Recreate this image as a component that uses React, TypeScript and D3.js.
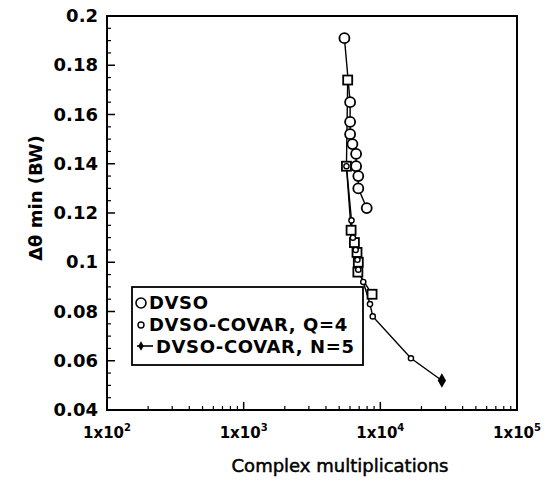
import React from "react";
import * as d3 from "d3";

const dvsoX = [5460, 6010, 6010, 6010, 6250, 6650, 6650, 6900, 6900, 7950];
const dvsoY = [0.191, 0.165, 0.157, 0.152, 0.148, 0.144, 0.139, 0.135, 0.130, 0.122];

const q4X = [5770, 5650, 6110, 6460, 6750, 6900, 6850, 8700];
const q4Y = [0.174, 0.139, 0.113, 0.108, 0.104, 0.100, 0.096, 0.087];

const n5X = [5650, 6150, 6300, 6600, 6800, 6900, 7500, 8400, 8800, 16750, 28200];
const n5Y = [0.139, 0.117, 0.110, 0.105, 0.101, 0.097, 0.092, 0.083, 0.078, 0.061, 0.052];

const yTicks = [0.04, 0.06, 0.08, 0.1, 0.12, 0.14, 0.16, 0.18, 0.2];
const yTickLabels = ["0.04", "0.06", "0.08", "0.1", "0.12", "0.14", "0.16", "0.18", "0.2"];
const xTicks = [100, 1000, 10000, 100000];
const xTickExps = ["2", "3", "4", "5"];
const legendLabels = ["DVSO", "DVSO-COVAR, Q=4", "DVSO-COVAR, N=5"];

const W = 551;
const H = 485;
const L = 107, R = 517, T = 16, B = 410;

export default function App() {
  const x = d3.scaleLog().domain([100, 100000]).range([L, R]);
  const y = d3.scaleLinear().domain([0.04, 0.2]).range([B, T]);
  const line = d3.line<[number, number]>().x((d) => x(d[0])).y((d) => y(d[1]));
  const dvso = dvsoX.map((v, i) => [v, dvsoY[i]] as [number, number]);
  const q4 = q4X.map((v, i) => [v, q4Y[i]] as [number, number]);
  const n5 = n5X.map((v, i) => [v, n5Y[i]] as [number, number]);

  const minorY = d3.range(0.045, 0.2, 0.005).filter((v) => Math.abs((v * 1000) % 20) > 1e-6 && Math.abs((v * 1000) % 20 - 20) > 1e-6);
  const minorX: number[] = [];
  for (let e = 2; e < 5; e++) for (let k = 2; k <= 9; k++) minorX.push(k * Math.pow(10, e));

  const bold = { fontFamily: "'DejaVu Sans', sans-serif", fontWeight: "bold" as const };
  const diamond = d3.symbol().type(d3.symbolDiamond);

  return (
    <svg width={W} height={H} style={{ position: "absolute", left: 0, top: 0, background: "#fff" }}>
      <rect x={0} y={0} width={W} height={H} fill="#fff" />
      {/* frame */}
      <rect x={L} y={T} width={R - L} height={B - T} fill="none" stroke="#000" strokeWidth={2} />
      {/* y ticks */}
      {yTicks.map((t) => (
        <line key={"yt" + t} x1={L} x2={L + 8} y1={y(t)} y2={y(t)} stroke="#000" strokeWidth={1.5} />
      ))}
      {minorY.map((t) => (
        <line key={"ym" + t} x1={L} x2={L + 4} y1={y(t)} y2={y(t)} stroke="#000" strokeWidth={1.2} />
      ))}
      {yTicks.map((t, i) => (
        <text key={"yl" + t} x={98} y={y(t) + 6} textAnchor="end" fontSize={18} {...bold}>
          {yTickLabels[i]}
        </text>
      ))}
      {/* x ticks */}
      {xTicks.map((t) => (
        <line key={"xt" + t} x1={x(t)} x2={x(t)} y1={B} y2={B - 8} stroke="#000" strokeWidth={1.5} />
      ))}
      {minorX.map((t) => (
        <line key={"xm" + t} x1={x(t)} x2={x(t)} y1={B} y2={B - 4} stroke="#000" strokeWidth={1.2} />
      ))}
      {xTicks.map((t, i) => (
        <text key={"xl" + t} x={x(t)} y={438} textAnchor="middle" fontSize={15} {...bold}>
          1x10<tspan dy={-7} fontSize={10}>{xTickExps[i]}</tspan>
        </text>
      ))}
      {/* axis titles */}
      <text x={340} y={472} textAnchor="middle" fontSize={18} fontFamily="'DejaVu Sans', sans-serif" stroke="#000" strokeWidth={0.5}>
        Complex multiplications
      </text>
      <text transform={`translate(42,198) rotate(-90)`} textAnchor="middle" fontSize={18} {...bold}>
        Δθ min (BW)
      </text>
      {/* series lines */}
      <path d={line(dvso) || ""} fill="none" stroke="#000" strokeWidth={1.4} />
      <path d={line(q4) || ""} fill="none" stroke="#000" strokeWidth={1.4} />
      <path d={line(n5) || ""} fill="none" stroke="#000" strokeWidth={1.4} />
      {/* markers */}
      {dvso.map((d, i) => (
        <circle key={"c" + i} cx={x(d[0])} cy={y(d[1])} r={5} fill="#fff" stroke="#000" strokeWidth={1.8} />
      ))}
      {q4.map((d, i) => (
        <rect key={"s" + i} x={x(d[0]) - 4.5} y={y(d[1]) - 4.5} width={9} height={9} fill="#fff" stroke="#000" strokeWidth={1.8} />
      ))}
      {n5.map((d, i) =>
        i === n5.length - 1 ? (
          <path key={"n" + i} d={diamond.size(60)() || ""} transform={`translate(${x(d[0])},${y(d[1])})`} fill="#000" />
        ) : (
          <circle key={"n" + i} cx={x(d[0])} cy={y(d[1])} r={2.6} fill="#fff" stroke="#000" strokeWidth={1.4} />
        )
      )}
      {/* legend */}
      <rect x={132} y={287} width={231} height={78} fill="#fff" stroke="#000" strokeWidth={1.8} />
      <circle cx={141} cy={303} r={5} fill="#fff" stroke="#000" strokeWidth={1.6} />
      <circle cx={141} cy={325} r={3} fill="#fff" stroke="#000" strokeWidth={1.4} />
      <line x1={137} x2={153} y1={346} y2={346} stroke="#000" strokeWidth={1.6} />
      <path d={diamond.size(25)() || ""} transform="translate(141,346)" fill="#000" />
      {legendLabels.map((l, i) => (
        <text key={l} x={i === 2 ? 156 : 149} y={309 + i * 22} fontSize={18} letterSpacing={0.6} {...bold}>
          {l}
        </text>
      ))}
    </svg>
  );
}
